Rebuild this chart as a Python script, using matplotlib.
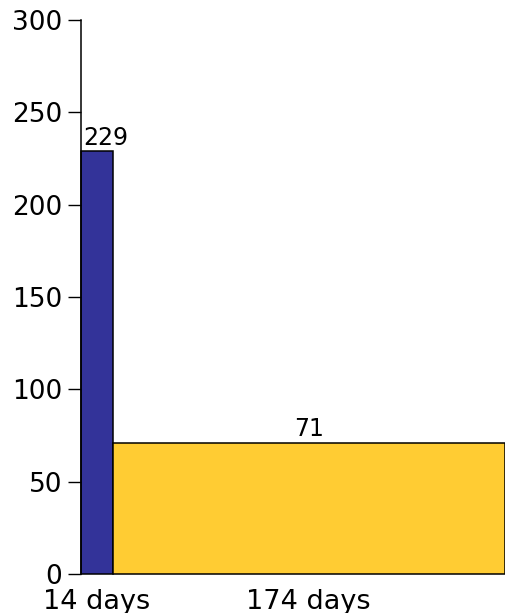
import matplotlib
matplotlib.use("Agg")
import matplotlib.pyplot as plt
import numpy as np

categories = ["14 days", "174 days"]
durations = [14, 174]
values = [229, 71]
colors = ["#333399", "#FFCC33"]
yticks = [0, 50, 100, 150, 200, 250, 300]

plt.rcParams['font.family'] = ['DejaVu Sans']

fig = plt.figure(figsize=(5.05, 6.13), dpi=100)
ax = fig.add_axes([81/505, 39/613, 1 - 81/505, 554/613])

lefts = np.concatenate([[0], np.cumsum(durations)[:-1]])
centers = lefts + np.array(durations) / 2
bars = ax.bar(lefts, values, width=durations, align='edge', color=colors,
              edgecolor='black', linewidth=1.1, clip_on=False)

for i, (l, c, v) in enumerate(zip(lefts, centers, values)):
    if i == 0:
        ax.annotate(str(v), (l, v), xytext=(1.5, 1), textcoords='offset points',
                    ha='left', va='bottom', fontsize=17)
    else:
        ax.annotate(str(v), (c, v), xytext=(0, 1), textcoords='offset points',
                    ha='center', va='bottom', fontsize=17)

ax.set_xlim(0, sum(durations))
ax.set_ylim(0, 300)
ax.set_yticks(yticks)
ax.set_xticks(centers)
ax.set_xticklabels(categories)
ax.tick_params(axis='y', length=9.5, width=1, pad=4, labelsize=19, direction='out')
ax.tick_params(axis='x', length=0, pad=10.5, labelsize=19.5)
for s in ['top', 'right', 'bottom']:
    ax.spines[s].set_visible(False)
ax.spines['left'].set_linewidth(1.1)
ax.set_facecolor('white')

fig.savefig("out.png", dpi=100)
